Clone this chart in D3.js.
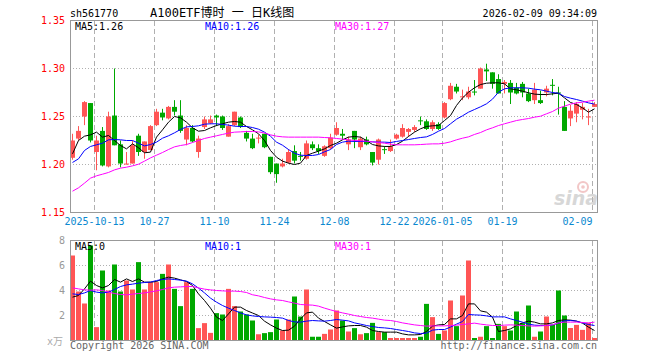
<!DOCTYPE html>
<html>
<head>
<meta charset="utf-8">
<script src="https://cdn.jsdelivr.net/npm/d3@7"></script>
<style>
body { margin: 0; background: #fff; }
svg text { font-family: "DejaVu Sans Mono", "Noto Sans CJK SC", monospace; }
</style>
</head>
<body>
<div id="chart"></div>
<script>
var dates = [
  "2025-09-29","2025-09-30","2025-10-09","2025-10-10",
  "2025-10-13","2025-10-14","2025-10-15","2025-10-16","2025-10-17",
  "2025-10-20","2025-10-21","2025-10-22","2025-10-23","2025-10-24",
  "2025-10-27","2025-10-28","2025-10-29","2025-10-30","2025-10-31",
  "2025-11-03","2025-11-04","2025-11-05","2025-11-06","2025-11-07",
  "2025-11-10","2025-11-11","2025-11-12","2025-11-13","2025-11-14",
  "2025-11-17","2025-11-18","2025-11-19","2025-11-20","2025-11-21",
  "2025-11-24","2025-11-25","2025-11-26","2025-11-27","2025-11-28",
  "2025-12-01","2025-12-02","2025-12-03","2025-12-04","2025-12-05",
  "2025-12-08","2025-12-09","2025-12-10","2025-12-11","2025-12-12",
  "2025-12-15","2025-12-16","2025-12-17","2025-12-18","2025-12-19",
  "2025-12-22","2025-12-23","2025-12-24","2025-12-25","2025-12-26",
  "2025-12-29","2025-12-30","2025-12-31",
  "2026-01-05","2026-01-06","2026-01-07","2026-01-08","2026-01-09",
  "2026-01-12","2026-01-13","2026-01-14","2026-01-15","2026-01-16",
  "2026-01-19","2026-01-20","2026-01-21","2026-01-22","2026-01-23",
  "2026-01-26","2026-01-27","2026-01-28","2026-01-29","2026-01-30",
  "2026-02-02","2026-02-03","2026-02-04","2026-02-05","2026-02-06",
  "2026-02-09"
];

var open = [
  1.207,1.227,1.250,1.264,1.213,1.235,1.198,1.251,1.221,1.200,
  1.201,1.230,1.213,1.215,1.241,1.254,1.248,1.260,1.251,1.226,
  1.238,1.213,1.239,1.243,1.251,1.250,1.229,1.241,1.249,1.233,
  1.227,1.227,1.232,1.208,1.201,1.198,1.202,1.214,1.209,1.206,
  1.221,1.217,1.209,1.217,1.231,1.232,1.221,1.235,1.218,1.226,
  1.213,1.205,1.216,1.214,1.227,1.229,1.234,1.236,1.246,1.245,
  1.237,1.242,1.249,1.268,1.281,1.270,1.270,1.276,1.279,1.299,
  1.296,1.289,1.284,1.285,1.280,1.284,1.274,1.267,1.267,1.275,
  1.283,1.275,1.260,1.248,1.253,1.257,1.249,1.260
];
var high = [
  1.232,1.240,1.266,1.264,1.230,1.239,1.255,1.300,1.225,1.213,
  1.225,1.232,1.224,1.241,1.258,1.258,1.261,1.267,1.267,1.241,
  1.241,1.230,1.250,1.251,1.252,1.251,1.242,1.255,1.250,1.235,
  1.232,1.231,1.232,1.208,1.201,1.206,1.216,1.220,1.213,1.225,
  1.224,1.221,1.220,1.232,1.244,1.237,1.229,1.235,1.229,1.229,
  1.213,1.227,1.219,1.226,1.232,1.242,1.238,1.241,1.250,1.247,
  1.246,1.244,1.265,1.285,1.284,1.278,1.281,1.288,1.301,1.305,
  1.296,1.294,1.288,1.288,1.285,1.286,1.279,1.285,1.277,1.282,
  1.289,1.281,1.266,1.262,1.265,1.264,1.258,1.265
];
var low = [
  1.205,1.225,1.241,1.223,1.194,1.198,1.197,1.220,1.197,1.200,
  1.201,1.209,1.206,1.215,1.240,1.246,1.247,1.251,1.233,1.220,
  1.223,1.207,1.237,1.242,1.240,1.236,1.229,1.240,1.238,1.224,
  1.216,1.222,1.217,1.190,1.181,1.197,1.201,1.201,1.204,1.205,
  1.215,1.211,1.208,1.216,1.230,1.226,1.215,1.217,1.215,1.220,
  1.199,1.200,1.211,1.213,1.226,1.228,1.229,1.234,1.241,1.236,
  1.235,1.236,1.248,1.267,1.274,1.267,1.268,1.272,1.279,1.287,
  1.279,1.274,1.274,1.263,1.273,1.270,1.265,1.263,1.263,1.271,
  1.272,1.252,1.235,1.240,1.244,1.247,1.241,1.260
];
var close = [
  1.225,1.235,1.265,1.225,1.225,1.199,1.250,1.220,1.201,1.201,
  1.220,1.213,1.224,1.240,1.255,1.249,1.260,1.255,1.235,1.238,
  1.224,1.227,1.247,1.247,1.249,1.238,1.240,1.255,1.239,1.227,
  1.217,1.228,1.218,1.192,1.190,1.201,1.213,1.204,1.208,1.222,
  1.217,1.214,1.219,1.228,1.238,1.230,1.226,1.226,1.227,1.221,
  1.202,1.226,1.215,1.219,1.231,1.238,1.237,1.239,1.245,1.237,
  1.244,1.237,1.264,1.282,1.276,1.271,1.276,1.275,1.300,1.297,
  1.284,1.274,1.286,1.275,1.274,1.275,1.266,1.278,1.264,1.279,
  1.282,1.274,1.235,1.256,1.263,1.260,1.250,1.263
];

var ma5 = [
  1.2111,1.2250,1.2295,1.2309,1.2337,1.2285,1.2302,1.2250,1.2198,1.2163,
  1.2215,1.2174,1.2122,1.2129,1.2285,1.2361,1.2441,1.2500,1.2486,1.2441,
  1.2382,1.2347,1.2354,1.2382,1.2406,1.2424,1.2441,1.2448,1.2441,1.2396,
  1.2361,1.2320,1.2250,1.2146,1.2076,1.2035,1.2014,1.2000,1.2014,1.2094,
  1.2118,1.2139,1.2163,1.2198,1.2222,1.2257,1.2285,1.2292,1.2285,1.2250,
  1.2208,1.2194,1.2188,1.2188,1.2208,1.2243,1.2292,1.2337,1.2372,1.2396,
  1.2403,1.2406,1.2458,1.2510,1.2615,1.2694,1.2753,1.2799,1.2833,1.2847,
  1.2851,1.2851,1.2840,1.2788,1.2778,1.2764,1.2747,1.2733,1.2729,1.2729,
  1.2736,1.2743,1.2694,1.2646,1.2625,1.2590,1.2545,1.2580
];
var ma10 = [
  1.2021,1.2059,1.2146,1.2188,1.2205,1.2222,1.2257,1.2260,1.2257,1.2250,
  1.2250,1.2222,1.2194,1.2208,1.2233,1.2274,1.2299,1.2330,1.2365,1.2392,
  1.2396,1.2403,1.2420,1.2424,1.2424,1.2417,1.2410,1.2399,1.2396,1.2396,
  1.2385,1.2368,1.2337,1.2295,1.2233,1.2201,1.2156,1.2118,1.2097,1.2094,
  1.2094,1.2104,1.2132,1.2156,1.2208,1.2233,1.2243,1.2240,1.2240,1.2240,
  1.2236,1.2233,1.2233,1.2229,1.2240,1.2250,1.2260,1.2271,1.2281,1.2288,
  1.2313,1.2347,1.2375,1.2424,1.2472,1.2507,1.2545,1.2573,1.2601,1.2632,
  1.2681,1.2753,1.2788,1.2799,1.2799,1.2799,1.2795,1.2785,1.2778,1.2764,
  1.2750,1.2743,1.2708,1.2691,1.2677,1.2660,1.2642,1.2629
];
var ma30 = [
  1.1722,1.1757,1.1806,1.1858,1.1882,1.1899,1.1917,1.1944,1.1962,1.1972,
  1.1986,1.2003,1.2035,1.2069,1.2097,1.2125,1.2156,1.2184,1.2198,1.2208,
  1.2229,1.2250,1.2271,1.2285,1.2299,1.2313,1.2327,1.2337,1.2340,1.2344,
  1.2344,1.2340,1.2327,1.2309,1.2295,1.2288,1.2285,1.2285,1.2285,1.2285,
  1.2285,1.2285,1.2281,1.2278,1.2271,1.2264,1.2257,1.2250,1.2247,1.2243,
  1.2236,1.2229,1.2222,1.2212,1.2205,1.2205,1.2205,1.2205,1.2208,1.2212,
  1.2215,1.2215,1.2222,1.2236,1.2257,1.2274,1.2288,1.2313,1.2333,1.2361,
  1.2382,1.2406,1.2424,1.2441,1.2458,1.2469,1.2479,1.2493,1.2503,1.2528,
  1.2552,1.2587,1.2608,1.2629,1.2642,1.2649,1.2660,1.2670
];

// volume, unit: 10k shares
var volume = [
  6.80,3.92,2.96,7.60,1.07,5.60,4.00,6.08,3.92,4.80,
  4.08,6.27,4.08,4.67,4.67,5.33,6.08,4.13,2.75,4.67,
  4.13,0.99,1.39,0.61,2.19,2.08,4.13,2.75,2.32,2.08,
  1.60,0.50,0.59,0.67,1.68,0.80,1.68,3.52,1.92,4.08,
  0.30,0.30,0.53,0.88,2.40,1.60,0.72,0.99,0.50,0.59,
  1.41,0.67,0.67,0.20,0.20,0.20,0.20,0.20,0.30,2.93,
  1.87,0.53,0.80,3.20,1.15,3.60,6.40,0.20,0.30,1.15,
  0.20,1.33,1.15,0.80,2.32,1.39,2.80,0.30,0.72,1.92,
  1.25,4.00,2.00,1.00,1.25,0.85,1.41,0.20
];
var volMa5 = [
  3.47,3.60,4.13,4.75,4.40,4.21,4.40,4.88,4.67,4.93,
  4.72,4.93,4.67,4.67,4.72,4.93,5.07,4.99,4.85,4.72,
  4.40,3.73,3.20,2.59,1.87,1.60,2.13,2.67,2.67,2.40,
  2.20,2.00,1.55,1.25,0.99,0.80,0.83,1.15,1.73,2.21,
  2.27,1.79,1.52,1.25,0.99,1.09,1.17,1.20,1.20,1.07,
  0.80,0.72,0.67,0.67,0.67,0.53,0.45,0.45,0.48,0.72,
  1.15,1.25,1.28,1.73,1.73,2.00,2.93,2.93,2.37,2.27,
  1.87,0.72,0.80,0.93,1.20,1.41,1.55,1.47,1.33,1.33,
  1.41,1.60,1.65,1.63,1.55,1.39,1.07,0.80
];
var volMa10 = [
  3.73,3.68,3.81,4.00,3.87,3.81,3.87,4.08,4.32,4.45,
  4.51,4.59,4.64,4.67,4.80,4.88,4.93,4.88,4.83,4.75,
  4.53,4.19,3.81,3.39,3.07,2.80,2.59,2.40,2.21,2.05,
  1.97,1.92,1.89,1.87,1.84,1.79,1.60,1.49,1.47,1.55,
  1.60,1.57,1.55,1.60,1.68,1.63,1.57,1.41,1.31,1.20,
  1.12,1.04,1.01,0.96,0.88,0.80,0.72,0.61,0.56,0.59,
  0.83,0.88,0.88,1.07,1.31,1.52,2.08,2.05,2.03,1.97,
  1.89,1.89,1.89,1.73,1.60,1.47,1.31,1.23,1.20,1.20,
  1.25,1.39,1.57,1.60,1.55,1.41,1.28,1.20
];
var volMa30 = [
  4.21,4.13,4.05,4.03,4.05,4.00,3.87,3.76,3.68,3.65,
  3.71,3.76,3.81,3.89,3.97,4.08,4.21,4.27,4.29,4.32,
  4.32,4.21,4.11,4.05,4.00,3.97,3.95,3.95,3.92,3.84,
  3.66,3.57,3.44,3.33,3.25,3.20,3.09,2.99,2.88,2.85,
  2.83,2.75,2.59,2.45,2.32,2.21,2.11,2.00,1.92,1.84,
  1.79,1.71,1.63,1.60,1.52,1.41,1.33,1.25,1.20,1.15,
  1.17,1.17,1.17,1.20,1.23,1.28,1.33,1.39,1.31,1.25,
  1.20,1.20,1.23,1.25,1.23,1.20,1.17,1.15,1.17,1.20,
  1.25,1.41,1.47,1.47,1.47,1.44,1.41,1.47
];

var tickDates = ["2025-10-13","2025-10-27","2025-11-10","2025-11-24","2025-12-08","2025-12-22","2026-01-05","2026-01-19","2026-02-09"];
var tickLabels = ["2025-10-13","10-27","11-10","11-24","12-08","12-22","2026-01-05","01-19","02-09"];
var priceTicks = [1.15, 1.20, 1.25, 1.30, 1.35];
var priceGrid = [1.20, 1.25, 1.30];
var volTicks = [2, 4, 6, 8];
var volGrid = [2, 4, 6];

var RED = "#ff5555", GREEN = "#00a800";

var rows = dates.map(function(d, i) {
  return {date: d, o: open[i], h: high[i], l: low[i], c: close[i], v: volume[i],
          ma5: ma5[i], ma10: ma10[i], ma30: ma30[i],
          vma5: volMa5[i], vma10: volMa10[i], vma30: volMa30[i]};
});

var svg = d3.select("#chart").append("svg")
    .attr("width", 660)
    .attr("height", 360);

var x = d3.scaleBand()
    .domain(dates)
    .range([69.5, 597.5])
    .paddingInner(1 / 6)
    .paddingOuter(1 / 12);

var y = d3.scaleLinear().domain([1.15, 1.35]).range([212.5, 20.5]);
var yv = d3.scaleLinear().domain([0, 8]).range([340.5, 240.5]);

var cx = function(d) { return x(d) + 2.5; };
var colorOf = function(d) { return d.c >= d.o ? RED : GREEN; };

// header
svg.append("text").attr("x", 70).attr("y", 16.5)
    .style("font-size", "10px").attr("fill", "#000").text("sh561770");
svg.append("text").attr("x", 150).attr("y", 17)
    .style("font-size", "12px").attr("fill", "#000").text("A100ETF博时 一 日K线图");
svg.append("text").attr("x", 597).attr("y", 16.5).attr("text-anchor", "end")
    .style("font-size", "10px").attr("fill", "#000").text("2026-02-09 09:34:09");

// grid lines
function drawGrid(top, bottom, yScale, gridVals) {
  svg.append("g").selectAll("line")
    .data(tickDates)
    .join("line")
      .attr("x1", function(d) { return x(d) + 0.5; })
      .attr("x2", function(d) { return x(d) + 0.5; })
      .attr("y1", top).attr("y2", bottom)
      .attr("stroke", "#b0b0b0")
      .attr("stroke-dasharray", "5,3");
  svg.append("g").selectAll("line")
    .data(gridVals)
    .join("line")
      .attr("x1", 70).attr("x2", 597)
      .attr("y1", function(d) { return Math.round(yScale(d) - 0.5) + 0.5; })
      .attr("y2", function(d) { return Math.round(yScale(d) - 0.5) + 0.5; })
      .attr("stroke", "#b0b0b0")
      .attr("stroke-dasharray", "1,2");
}
drawGrid(21, 212, y, priceGrid);
drawGrid(241, 340, yv, volGrid);

// sina watermark
var wm = svg.append("g").attr("opacity", 0.55);
wm.append("text").attr("x", 576).attr("y", 205).attr("text-anchor", "middle")
    .style("font-family", "DejaVu Sans").style("font-size", "19px")
    .style("font-weight", "bold").style("font-style", "italic")
    .attr("fill", "#b8b8b8").text("sina");
wm.append("circle").attr("cx", 583).attr("cy", 187).attr("r", 5)
    .attr("fill", "none").attr("stroke", "#e89a9a").attr("stroke-width", 2);
wm.append("circle").attr("cx", 583).attr("cy", 187).attr("r", 1.8)
    .attr("fill", "#e89a9a");

// candles
var candles = svg.append("g").selectAll("g")
  .data(rows)
  .join("g");
candles.append("line")
    .attr("x1", function(d) { return cx(d.date); })
    .attr("x2", function(d) { return cx(d.date); })
    .attr("y1", function(d) { return y(d.h); })
    .attr("y2", function(d) { return y(d.l); })
    .attr("stroke", colorOf);
candles.append("rect")
    .attr("x", function(d) { return x(d.date); })
    .attr("width", x.bandwidth())
    .attr("y", function(d) { return y(Math.max(d.o, d.c)); })
    .attr("height", function(d) { return Math.max(1, Math.abs(y(d.o) - y(d.c))); })
    .attr("fill", colorOf);

// volume bars
svg.append("g").selectAll("rect")
  .data(rows)
  .join("rect")
    .attr("x", function(d) { return x(d.date); })
    .attr("width", x.bandwidth())
    .attr("y", function(d) { return yv(d.v); })
    .attr("height", function(d) { return yv(0) + 0.5 - yv(d.v); })
    .attr("fill", colorOf);

// moving average lines
function maLine(scale, key, color) {
  var line = d3.line()
    .x(function(d) { return cx(d.date); })
    .y(function(d) { return scale(d[key]); });
  svg.append("path")
    .datum(rows)
    .attr("d", line)
    .attr("fill", "none")
    .attr("stroke", color)
    .attr("stroke-width", 1);
}
maLine(y, "ma5", "#000000");
maLine(y, "ma10", "#0000ff");
maLine(y, "ma30", "#ff00ff");
maLine(yv, "vma5", "#000000");
maLine(yv, "vma10", "#0000ff");
maLine(yv, "vma30", "#ff00ff");

// frames
svg.append("rect").attr("x", 70.5).attr("y", 20.5).attr("width", 527).attr("height", 192)
    .attr("fill", "none").attr("stroke", "#999");
svg.append("rect").attr("x", 70.5).attr("y", 240.5).attr("width", 527).attr("height", 100)
    .attr("fill", "none").attr("stroke", "#999");

// price axis labels
svg.append("g").selectAll("text")
  .data(priceTicks)
  .join("text")
    .attr("x", 65).attr("y", function(d) { return y(d) + 3.5; })
    .attr("text-anchor", "end")
    .style("font-size", "10px")
    .attr("fill", "#ff0000")
    .text(d3.format(".2f"));

// volume axis labels
svg.append("g").selectAll("text")
  .data(volTicks)
  .join("text")
    .attr("x", 65).attr("y", function(d) { return yv(d) + 3.5; })
    .attr("text-anchor", "end")
    .style("font-size", "10px")
    .attr("fill", "#999")
    .text(function(d) { return d; });
svg.append("text").attr("x", 63).attr("y", 345).attr("text-anchor", "end")
    .style("font-size", "10px").attr("fill", "#aaa").text("x万");

// date labels
svg.append("g").selectAll("text")
  .data(tickDates)
  .join("text")
    .attr("x", function(d) { return x(d) + 0.5; })
    .attr("y", 225)
    .attr("text-anchor", function(d, i) { return i === tickDates.length - 1 ? "end" : "middle"; })
    .style("font-size", "10px")
    .attr("fill", "#0a88d0")
    .text(function(d, i) { return tickLabels[i]; });

// legends
var last = rows[rows.length - 1];
var f2 = d3.format(".2f");
function legend(yPos, items) {
  svg.append("g").selectAll("text")
    .data(items)
    .join("text")
      .attr("x", function(d) { return d.x; })
      .attr("y", yPos)
      .style("font-size", "10px")
      .attr("fill", function(d) { return d.color; })
      .text(function(d) { return d.text; });
}
legend(29.5, [
  {x: 75, color: "#000", text: "MA5:" + f2(last.ma5)},
  {x: 205, color: "#0000ff", text: "MA10:" + f2(last.ma10)},
  {x: 335, color: "#ff00ff", text: "MA30:" + f2(last.ma30)}
]);
legend(249.5, [
  {x: 75, color: "#000", text: "MA5:0"},
  {x: 205, color: "#0000ff", text: "MA10:" + Math.round(last.vma10)},
  {x: 335, color: "#ff00ff", text: "MA30:" + Math.round(last.vma30)}
]);

// footer
svg.append("text").attr("x", 70).attr("y", 348.5)
    .style("font-size", "10px").attr("fill", "#666").text("Copyright 2026 SINA.COM");
svg.append("text").attr("x", 597).attr("y", 348.5).attr("text-anchor", "end")
    .style("font-size", "10px").attr("fill", "#666").text("http://finance.sina.com.cn");
</script>
</body>
</html>
